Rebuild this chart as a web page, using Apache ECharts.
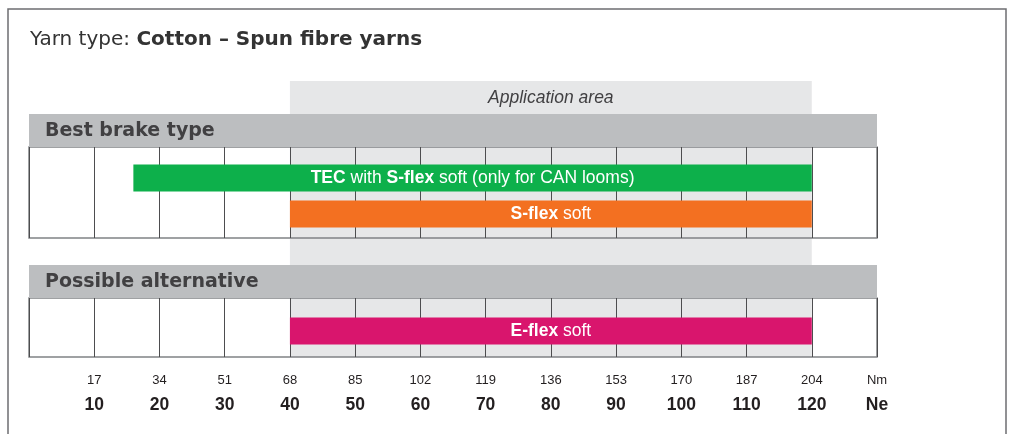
<!DOCTYPE html>
<html>
<head>
<meta charset="utf-8">
<script src="https://cdn.jsdelivr.net/npm/echarts@6/dist/echarts.min.js"></script>
<style>
html, body { margin: 0; padding: 0; background: #fff; }
#chart { width: 1011px; height: 434px; }
</style>
</head>
<body>
<div id="chart"></div>
<script>
// yarn count scale: Ne on the axis, Nm printed above it
const neLabels = ['10', '20', '30', '40', '50', '60', '70', '80', '90', '100', '110', '120', 'Ne'];
const nmLabels = ['17', '34', '51', '68', '85', '102', '119', '136', '153', '170', '187', '204', 'Nm'];

// application area (Ne)
const appArea = [40, 120];
const appLabel = 'Application area';

// best brake type
const bestTypes = ['TEC with S-flex soft (only for CAN looms)', 'S-flex soft'];
const bestFrom = [16, 40];
const bestTo = [120, 120];
const bestText = ['{b|TEC} with {b|S-flex} soft (only for CAN looms)', '{b|S-flex} soft'];

// possible alternative
const altTypes = ['E-flex soft'];
const altFrom = [40];
const altTo = [120];
const altText = ['{b|E-flex} soft'];

const bestColors = ['#0db04b', '#f37021'];
const altColors = ['#d9156d'];

const SANS = "'Liberation Sans', Arial, sans-serif";
const WIDE = "'DejaVu Sans', sans-serif";

let myChart = echarts.init(document.getElementById('chart'));

// draws the brake bars centred (a bit low) in the box of each section
function laneBars(texts, colors) {
  return function (params, api) {
    let cs = params.coordSys;
    let n = texts.length;
    let i = params.dataIndex;
    let x0 = api.coord([api.value(0), 0])[0];
    let x1 = api.coord([api.value(1), 0])[0];
    let h = 27, gap = 9;
    let total = n * h + (n - 1) * gap;
    let y = cs.y + cs.height / 2 + 3.5 - total / 2 + i * (h + gap);
    return {
      type: 'rect',
      shape: { x: x0, y: y, width: x1 - x0, height: h },
      style: { fill: colors[i] },
      textContent: {
        style: {
          text: texts[i],
          fill: '#fff',
          fontSize: 17.5,
          fontFamily: SANS,
          rich: {
            b: { fill: '#fff', fontSize: 17.5, fontFamily: SANS, fontWeight: 'bold' }
          }
        }
      },
      textConfig: { position: 'inside' }
    };
  };
}

function xAxisFor(gridIndex, extra) {
  return Object.assign({
    type: 'value',
    gridIndex: gridIndex,
    min: 0,
    max: 130,
    interval: 10,
    axisLine: { show: false },
    axisTick: { show: false },
    axisLabel: { show: false },
    splitLine: { show: false }
  }, extra);
}

const boxLines = { show: true, lineStyle: { color: '#4d4d4f', width: 1 } };

myChart.setOption({
  backgroundColor: '#fff',
  animation: false,
  title: {
    left: 30,
    top: 30,
    padding: 0,
    text: '{n|Yarn type: }{b|Cotton – Spun fibre yarns}',
    textStyle: {
      rich: {
        n: { fontSize: 20, fontFamily: WIDE, fontWeight: 'normal', color: '#333' },
        b: { fontSize: 20, fontFamily: WIDE, fontWeight: 'bold', color: '#333' }
      }
    }
  },
  grid: [
    { left: 29, width: 848, top: 81, height: 276, show: false, outerBoundsMode: 'none' },
    { left: 29, width: 848, top: 147, height: 91, show: true, z: 3,
      borderColor: '#808285', borderWidth: 1.5, backgroundColor: 'transparent', outerBoundsMode: 'none' },
    { left: 29, width: 848, top: 298, height: 59, show: true, z: 3,
      borderColor: '#808285', borderWidth: 1.5, backgroundColor: 'transparent', outerBoundsMode: 'none' }
  ],
  xAxis: [
    xAxisFor(0, {}),
    xAxisFor(1, { z: 3, splitLine: boxLines }),
    xAxisFor(2, {
      z: 3,
      splitLine: boxLines,
      axisLabel: {
        show: true,
        interval: 0,
        margin: 13.5,
        showMinLabel: true,
        showMaxLabel: true,
        formatter: function (v) {
          let i = Math.round(v / 10) - 1;
          if (i < 0) return '';
          return '{nm|' + nmLabels[i] + '}\n{ne|' + neLabels[i] + '}';
        },
        rich: {
          nm: { fontSize: 13, fontFamily: SANS, color: '#231f20', lineHeight: 20 },
          ne: { fontSize: 17.5, fontFamily: SANS, fontWeight: 'bold', color: '#231f20', lineHeight: 30 }
        }
      }
    })
  ],
  yAxis: [
    { type: 'value', gridIndex: 0, min: 0, max: 1, show: false },
    { type: 'category', gridIndex: 1, data: bestTypes, inverse: true, show: false },
    { type: 'category', gridIndex: 2, data: altTypes, inverse: true, show: false }
  ],
  graphic: [
    { type: 'rect', z: 10, shape: { x: 29, y: 114, width: 848, height: 33 }, style: { fill: '#bcbec0' } },
    { type: 'rect', z: 10, shape: { x: 29, y: 265, width: 848, height: 33 }, style: { fill: '#bcbec0' } },
    { type: 'text', z: 11, x: 45, y: 131, style: { text: 'Best brake type', fill: '#414042',
      font: 'bold 19px ' + WIDE, verticalAlign: 'middle' } },
    { type: 'text', z: 11, x: 45, y: 282, style: { text: 'Possible alternative', fill: '#414042',
      font: 'bold 19px ' + WIDE, verticalAlign: 'middle' } },
    { type: 'rect', z: 12, shape: { x: 8, y: 9, width: 998, height: 440 },
      style: { fill: 'none', stroke: '#6d6e71', lineWidth: 1.5 } }
  ],
  series: [
    {
      type: 'custom',
      xAxisIndex: 0,
      yAxisIndex: 0,
      z: 1,
      silent: true,
      data: [[appArea[0], appArea[1]]],
      renderItem: function (params, api) {
        let cs = params.coordSys;
        let x0 = api.coord([api.value(0), 0])[0];
        let x1 = api.coord([api.value(1), 0])[0];
        return {
          type: 'group',
          children: [
            { type: 'rect', shape: { x: x0, y: cs.y, width: x1 - x0, height: cs.height },
              style: { fill: '#e6e7e8' } },
            { type: 'text', x: (x0 + x1) / 2, y: cs.y + 17,
              style: { text: appLabel, fill: '#414042', font: 'italic 17.5px ' + SANS,
                align: 'center', verticalAlign: 'middle' } }
          ]
        };
      }
    },
    {
      name: 'Best brake type',
      type: 'custom',
      xAxisIndex: 1,
      yAxisIndex: 1,
      z: 5,
      encode: { x: [0, 1], y: 2 },
      data: bestFrom.map((f, i) => [f, bestTo[i], i]),
      renderItem: laneBars(bestText, bestColors)
    },
    {
      name: 'Possible alternative',
      type: 'custom',
      xAxisIndex: 2,
      yAxisIndex: 2,
      z: 5,
      encode: { x: [0, 1], y: 2 },
      data: altFrom.map((f, i) => [f, altTo[i], i]),
      renderItem: laneBars(altText, altColors)
    }
  ]
});

window.addEventListener('resize', () => {
  myChart.resize();
});
</script>
</body>
</html>
